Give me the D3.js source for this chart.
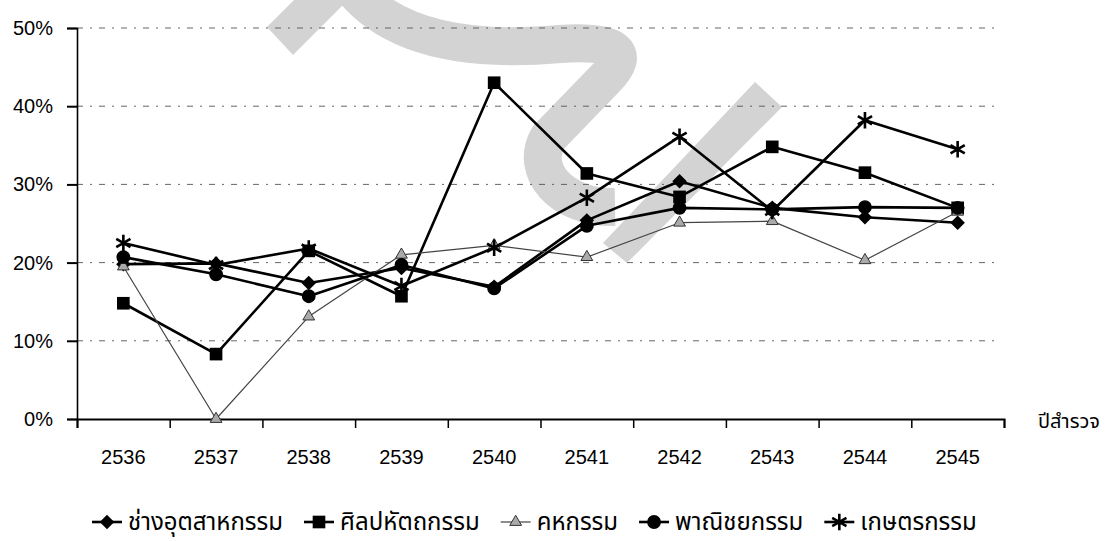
<!DOCTYPE html>
<html>
<head>
<meta charset="utf-8">
<script src="https://cdn.jsdelivr.net/npm/d3@7"></script>
<style>
    body { margin: 0; background: #fff; }
    svg { display: block; font-family: "Liberation Sans", Arial, sans-serif; }
    .thai { font-family: "Noto Sans Thai", "Loma", "Garuda", "Noto Sans", sans-serif; }
</style>
</head>
<body>
<div id="chart"></div>
<script>
// ข้อมูล (ร้อยละ)
const years = ['2536', '2537', '2538', '2539', '2540', '2541', '2542', '2543', '2544', '2545'];
const seriesNames = ['ช่างอุตสาหกรรม', 'ศิลปหัตถกรรม', 'คหกรรม', 'พาณิชยกรรม', 'เกษตรกรรม'];
const industrial = [19.8, 19.9, 17.4, 19.3, 16.9, 25.4, 30.4, 27.0, 25.8, 25.1];
const crafts     = [14.8, 8.3, 21.5, 15.7, 43.0, 31.4, 28.4, 34.8, 31.5, 27.0];
const homeEcon   = [19.5, 0.0, 13.1, 21.0, 22.2, 20.7, 25.1, 25.3, 20.3, 26.5];
const commerce   = [20.7, 18.5, 15.7, 19.7, 16.7, 24.7, 27.0, 26.8, 27.1, 27.0];
const agri       = [22.5, 19.7, 21.8, 17.0, 21.9, 28.3, 36.1, 26.6, 38.2, 34.5];
const yTicks = [0, 10, 20, 30, 40, 50];
const xAxisTitle = 'ปีสำรวจ';

const width = 1106, height = 541;
const plot = { left: 77, right: 1004, top: 28, bottom: 419 };

// ลายน้ำสีเทาในภาพต้นฉบับ (ไม่ใช่ข้อมูล)
const watermarkShapes = [
    { type: 'poly', d: 'M294,0 L267,27 L293,55 L348,0 Z' },
    { type: 'stroke', d: 'M345,-22 C385,40 470,52 560,44 C615,40 632,52 606,78 L548,138 C530,170 560,208 615,207' },
    { type: 'poly', d: 'M603,243 L755,82 L782,107 L627,263 Z' }
];

const series = [
    { name: seriesNames[0], data: industrial, symbol: d3.symbolSquare, size: 105, rotate: 45 },
    { name: seriesNames[1], data: crafts, symbol: d3.symbolSquare, size: 160 },
    { name: seriesNames[2], data: homeEcon, symbol: d3.symbolTriangle, size: 60, thin: true },
    { name: seriesNames[3], data: commerce, symbol: d3.symbolCircle, size: 150 },
    { name: seriesNames[4], data: agri, symbol: d3.symbolAsterisk, size: 190, stroked: true }
];

const svg = d3.select('#chart').append('svg')
    .attr('width', width)
    .attr('height', height)
    .attr('viewBox', [0, 0, width, height]);

svg.append('g')
    .selectAll('path')
    .data(watermarkShapes)
    .join('path')
    .attr('d', d => d.d)
    .attr('fill', d => d.type === 'poly' ? '#d3d3d3' : 'none')
    .attr('stroke', d => d.type === 'stroke' ? '#d3d3d3' : 'none')
    .attr('stroke-width', 38);

const x = d3.scaleBand().domain(years).range([plot.left, plot.right]).padding(0);
const xEdge = d3.scaleLinear().domain([0, years.length]).range([plot.left, plot.right]);
const y = d3.scaleLinear().domain([0, 50]).range([plot.bottom, plot.top]);
const cx = d => x(d) + x.bandwidth() / 2;

// เส้นกริด
svg.append('g')
    .selectAll('line')
    .data(yTicks.filter(v => v > 0))
    .join('line')
    .attr('x1', plot.left)
    .attr('x2', plot.right - 4)
    .attr('y1', d => y(d))
    .attr('y2', d => y(d))
    .attr('stroke', '#555')
    .attr('stroke-width', 0.9)
    .attr('stroke-dasharray', '6,7,2,7');

// แกน y
svg.append('g')
    .attr('transform', `translate(${plot.left},0)`)
    .call(d3.axisLeft(y).tickValues(yTicks).tickSize(10).tickPadding(14).tickFormat(d => d + '%'))
    .call(g => {
        g.select('.domain').attr('stroke', '#000').attr('stroke-width', 1.6);
        g.selectAll('.tick line').attr('stroke', '#000').attr('stroke-width', 2);
        g.selectAll('.tick text').attr('fill', '#000').attr('font-size', 20)
            .attr('font-family', '"Liberation Sans", Arial, sans-serif');
    });

// แกน x: ขีดที่ขอบช่อง
svg.append('g')
    .attr('transform', `translate(0,${plot.bottom})`)
    .call(d3.axisBottom(xEdge).ticks(years.length).tickSize(9).tickSizeOuter(9).tickFormat(''))
    .call(g => {
        g.select('.domain').attr('stroke', '#000').attr('stroke-width', 2);
        g.selectAll('.tick line').attr('stroke', '#000').attr('stroke-width', 1.5);
    });

// ป้ายปี
svg.append('g')
    .attr('transform', `translate(0,${plot.bottom + 31})`)
    .call(d3.axisBottom(x).tickSize(0).tickPadding(0))
    .call(g => {
        g.select('.domain').remove();
        g.selectAll('.tick text').attr('fill', '#000').attr('font-size', 20)
            .attr('font-family', '"Liberation Sans", Arial, sans-serif');
    });

svg.append('text')
    .attr('class', 'thai')
    .attr('x', 1038)
    .attr('y', plot.bottom + 9)
    .attr('font-size', 20)
    .attr('fill', '#000')
    .text(xAxisTitle);

// เส้นข้อมูล
const line = d3.line()
    .x((d, i) => cx(years[i]))
    .y(d => y(d));

const seriesG = svg.append('g')
    .selectAll('g')
    .data(series)
    .join('g');

seriesG.append('path')
    .attr('fill', 'none')
    .attr('stroke', d => d.thin ? '#444' : '#000')
    .attr('stroke-width', d => d.thin ? 1.2 : 2.6)
    .attr('stroke-linejoin', 'round')
    .attr('d', d => line(d.data));

function drawMarker(sel, s) {
    sel.attr('d', d3.symbol(s.symbol, s.size))
        .attr('fill', s.stroked ? 'none' : (s.thin ? '#aaa' : '#000'))
        .attr('stroke', s.thin ? '#333' : '#000')
        .attr('stroke-width', s.stroked ? 2.6 : (s.thin ? 1 : 0));
}

seriesG.each(function (s) {
    d3.select(this).selectAll('path.mark')
        .data(s.data)
        .join('path')
        .attr('class', 'mark')
        .attr('transform', (d, i) => `translate(${cx(years[i])},${y(d)}) rotate(${s.rotate || 0})`)
        .each(function () { drawMarker(d3.select(this), s); });
});

// คำอธิบายสัญลักษณ์
const legend = svg.append('g').attr('transform', `translate(92,${height - 19})`);
let pos = 0;
series.forEach(s => {
    const item = legend.append('g').attr('transform', `translate(${pos},0)`);
    item.append('line')
        .attr('x1', 0).attr('x2', 30)
        .attr('stroke', s.thin ? '#444' : '#000')
        .attr('stroke-width', s.thin ? 1.2 : 2.6);
    item.append('path')
        .attr('transform', `translate(15,0) rotate(${s.rotate || 0})`)
        .call(drawMarker, s);
    const t = item.append('text')
        .attr('class', 'thai')
        .attr('x', 36)
        .attr('y', 8)
        .attr('font-size', 24)
        .attr('fill', '#000')
        .text(s.name);
    pos += 36 + t.node().getComputedTextLength() + 21;
});
</script>
</body>
</html>
